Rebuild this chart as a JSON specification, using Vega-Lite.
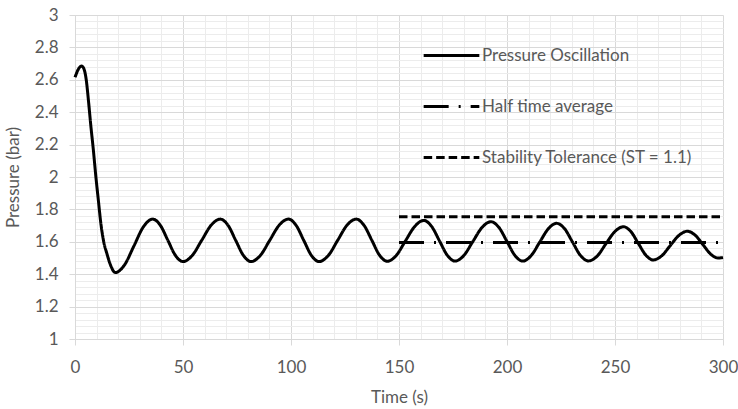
{
  "$schema": "https://vega.github.io/schema/vega-lite/v6.json",
  "width": 648,
  "height": 324,
  "autosize": {"type": "none"},
  "padding": {"left": 75, "top": 15, "right": 15, "bottom": 70},
  "config": {
    "view": {"stroke": null},
    "font": "Lato",
    "axis": {"labelFont": "Lato", "titleFont": "Lato"},
    "legend": {"labelFont": "Lato"}
  },
  "datasets": {
    "curve": [
      {"t": 0, "p": 2.615, "s": "Pressure Oscillation"},
      {"t": 1, "p": 2.65, "s": "Pressure Oscillation"},
      {"t": 2, "p": 2.675, "s": "Pressure Oscillation"},
      {"t": 3.1, "p": 2.685, "s": "Pressure Oscillation"},
      {"t": 4.2, "p": 2.665, "s": "Pressure Oscillation"},
      {"t": 5.2, "p": 2.6, "s": "Pressure Oscillation"},
      {"t": 6.2, "p": 2.475, "s": "Pressure Oscillation"},
      {"t": 7.3, "p": 2.32, "s": "Pressure Oscillation"},
      {"t": 8.5, "p": 2.167, "s": "Pressure Oscillation"},
      {"t": 9.6, "p": 2.01, "s": "Pressure Oscillation"},
      {"t": 10.8, "p": 1.858, "s": "Pressure Oscillation"},
      {"t": 12, "p": 1.71, "s": "Pressure Oscillation"},
      {"t": 13.3, "p": 1.6, "s": "Pressure Oscillation"},
      {"t": 14.7, "p": 1.53, "s": "Pressure Oscillation"},
      {"t": 16.5, "p": 1.455, "s": "Pressure Oscillation"},
      {"t": 18.6, "p": 1.41, "s": "Pressure Oscillation"},
      {"t": 22.95, "p": 1.458, "s": "Pressure Oscillation"},
      {"t": 27.3, "p": 1.575, "s": "Pressure Oscillation"},
      {"t": 31.65, "p": 1.692, "s": "Pressure Oscillation"},
      {"t": 36, "p": 1.74, "s": "Pressure Oscillation"},
      {"t": 39.5, "p": 1.702, "s": "Pressure Oscillation"},
      {"t": 43, "p": 1.609, "s": "Pressure Oscillation"},
      {"t": 46.5, "p": 1.516, "s": "Pressure Oscillation"},
      {"t": 50, "p": 1.478, "s": "Pressure Oscillation"},
      {"t": 54.3, "p": 1.516, "s": "Pressure Oscillation"},
      {"t": 58.65, "p": 1.609, "s": "Pressure Oscillation"},
      {"t": 63, "p": 1.702, "s": "Pressure Oscillation"},
      {"t": 67.3, "p": 1.74, "s": "Pressure Oscillation"},
      {"t": 70.85, "p": 1.702, "s": "Pressure Oscillation"},
      {"t": 74.4, "p": 1.609, "s": "Pressure Oscillation"},
      {"t": 77.95, "p": 1.516, "s": "Pressure Oscillation"},
      {"t": 81.5, "p": 1.478, "s": "Pressure Oscillation"},
      {"t": 85.8, "p": 1.516, "s": "Pressure Oscillation"},
      {"t": 90.15, "p": 1.609, "s": "Pressure Oscillation"},
      {"t": 94.5, "p": 1.702, "s": "Pressure Oscillation"},
      {"t": 98.8, "p": 1.74, "s": "Pressure Oscillation"},
      {"t": 102.35, "p": 1.702, "s": "Pressure Oscillation"},
      {"t": 105.9, "p": 1.609, "s": "Pressure Oscillation"},
      {"t": 109.45, "p": 1.516, "s": "Pressure Oscillation"},
      {"t": 113, "p": 1.478, "s": "Pressure Oscillation"},
      {"t": 117.3, "p": 1.516, "s": "Pressure Oscillation"},
      {"t": 121.6, "p": 1.609, "s": "Pressure Oscillation"},
      {"t": 125.9, "p": 1.702, "s": "Pressure Oscillation"},
      {"t": 130.2, "p": 1.74, "s": "Pressure Oscillation"},
      {"t": 133.8, "p": 1.702, "s": "Pressure Oscillation"},
      {"t": 137.4, "p": 1.61, "s": "Pressure Oscillation"},
      {"t": 141, "p": 1.517, "s": "Pressure Oscillation"},
      {"t": 144.6, "p": 1.48, "s": "Pressure Oscillation"},
      {"t": 148.8, "p": 1.517, "s": "Pressure Oscillation"},
      {"t": 153, "p": 1.606, "s": "Pressure Oscillation"},
      {"t": 157.3, "p": 1.695, "s": "Pressure Oscillation"},
      {"t": 161.5, "p": 1.732, "s": "Pressure Oscillation"},
      {"t": 165.1, "p": 1.695, "s": "Pressure Oscillation"},
      {"t": 168.7, "p": 1.607, "s": "Pressure Oscillation"},
      {"t": 172.3, "p": 1.518, "s": "Pressure Oscillation"},
      {"t": 175.9, "p": 1.481, "s": "Pressure Oscillation"},
      {"t": 180.1, "p": 1.517, "s": "Pressure Oscillation"},
      {"t": 184.25, "p": 1.603, "s": "Pressure Oscillation"},
      {"t": 188.4, "p": 1.688, "s": "Pressure Oscillation"},
      {"t": 192.6, "p": 1.724, "s": "Pressure Oscillation"},
      {"t": 196.3, "p": 1.688, "s": "Pressure Oscillation"},
      {"t": 199.95, "p": 1.603, "s": "Pressure Oscillation"},
      {"t": 203.6, "p": 1.517, "s": "Pressure Oscillation"},
      {"t": 207.3, "p": 1.481, "s": "Pressure Oscillation"},
      {"t": 211.2, "p": 1.515, "s": "Pressure Oscillation"},
      {"t": 215.15, "p": 1.598, "s": "Pressure Oscillation"},
      {"t": 219.1, "p": 1.68, "s": "Pressure Oscillation"},
      {"t": 223, "p": 1.714, "s": "Pressure Oscillation"},
      {"t": 226.7, "p": 1.68, "s": "Pressure Oscillation"},
      {"t": 230.35, "p": 1.598, "s": "Pressure Oscillation"},
      {"t": 234, "p": 1.516, "s": "Pressure Oscillation"},
      {"t": 237.7, "p": 1.482, "s": "Pressure Oscillation"},
      {"t": 241.75, "p": 1.512, "s": "Pressure Oscillation"},
      {"t": 245.8, "p": 1.588, "s": "Pressure Oscillation"},
      {"t": 249.85, "p": 1.662, "s": "Pressure Oscillation"},
      {"t": 253.9, "p": 1.693, "s": "Pressure Oscillation"},
      {"t": 257.35, "p": 1.663, "s": "Pressure Oscillation"},
      {"t": 260.8, "p": 1.59, "s": "Pressure Oscillation"},
      {"t": 264.25, "p": 1.518, "s": "Pressure Oscillation"},
      {"t": 267.7, "p": 1.488, "s": "Pressure Oscillation"},
      {"t": 271.65, "p": 1.514, "s": "Pressure Oscillation"},
      {"t": 275.6, "p": 1.577, "s": "Pressure Oscillation"},
      {"t": 279.55, "p": 1.639, "s": "Pressure Oscillation"},
      {"t": 283.5, "p": 1.665, "s": "Pressure Oscillation"},
      {"t": 287.1, "p": 1.641, "s": "Pressure Oscillation"},
      {"t": 290.7, "p": 1.583, "s": "Pressure Oscillation"},
      {"t": 294.3, "p": 1.524, "s": "Pressure Oscillation"},
      {"t": 297.8, "p": 1.5, "s": "Pressure Oscillation"},
      {"t": 300, "p": 1.503, "s": "Pressure Oscillation"}
    ],
    "refs": [
      {"t": 150, "p": 1.595, "s": "Half time average"},
      {"t": 300, "p": 1.595, "s": "Half time average"},
      {"t": 150, "p": 1.755, "s": "Stability Tolerance (ST = 1.1)"},
      {"t": 300, "p": 1.755, "s": "Stability Tolerance (ST = 1.1)"}
    ]
  },
  "layer": [
    {
      "data": {"name": "curve"},
      "mark": {"type": "line", "interpolate": "monotone", "color": "black", "strokeWidth": 3},
      "encoding": {
        "x": {
          "field": "t", "type": "quantitative",
          "scale": {"domain": [0, 300], "nice": false, "zero": false},
          "axis": {
            "orient": "top", "title": null, "labels": false, "ticks": false, "domain": false,
            "grid": true, "gridColor": "#ececec", "gridWidth": 1,
            "values": [0,10,20,30,40,60,70,80,90,110,120,130,140,160,170,180,190,210,220,230,240,260,270,280,290]
          }
        },
        "y": {
          "field": "p", "type": "quantitative",
          "scale": {"domain": [1, 3], "nice": false, "zero": false},
          "axis": {
            "orient": "right", "title": null, "labels": false, "ticks": false, "domain": false,
            "grid": true, "gridColor": "#ececec", "gridWidth": 1,
            "values": [1.04,1.08,1.12,1.16,1.24,1.28,1.32,1.36,1.44,1.48,1.52,1.56,1.64,1.68,1.72,1.76,1.84,1.88,1.92,1.96,2.04,2.08,2.12,2.16,2.24,2.28,2.32,2.36,2.44,2.48,2.52,2.56,2.64,2.68,2.72,2.76,2.84,2.88,2.92,2.96]
          }
        },
        "strokeDash": {
          "field": "s", "type": "nominal",
          "scale": {
            "domain": ["Pressure Oscillation", "Half time average", "Stability Tolerance (ST = 1.1)"],
            "range": [[1, 0], [25, 10, 2, 10], [8.5, 4]]
          },
          "legend": {
            "orient": "none", "legendX": 347, "legendY": 11, "title": null, "padding": 0,
            "symbolType": "stroke", "symbolSize": 3100, "symbolStrokeWidth": 3, "symbolStrokeColor": "black",
            "labelFontSize": 17, "labelColor": "#595959", "labelOffset": 1, "rowPadding": 13, "labelLimit": 400
          }
        }
      }
    },
    {
      "data": {"name": "refs"},
      "mark": {"type": "line", "color": "black", "strokeWidth": 3},
      "encoding": {
        "x": {
          "field": "t", "type": "quantitative",
          "axis": {
            "orient": "bottom", "title": "Time (s)", "values": [0, 50, 100, 150, 200, 250, 300],
            "labelFlush": false,
            "grid": true, "gridColor": "#d9d9d9", "domainColor": "#d9d9d9", "tickColor": "#d9d9d9",
            "tickSize": 6, "labelColor": "#595959", "labelFontSize": 17, "labelPadding": 14,
            "titleColor": "#595959", "titleFontSize": 17, "titleFontWeight": "normal", "titlePadding": 14
          }
        },
        "y": {
          "field": "p", "type": "quantitative",
          "axis": {
            "orient": "left", "title": "Pressure (bar)", "values": [1, 1.2, 1.4, 1.6, 1.8, 2, 2.2, 2.4, 2.6, 2.8, 3],
            "format": ".1~f", "labelFlush": false,
            "grid": true, "gridColor": "#d9d9d9", "domainColor": "#d9d9d9", "tickColor": "#d9d9d9",
            "tickSize": 6, "labelColor": "#595959", "labelFontSize": 17, "labelPadding": 11,
            "titleColor": "#595959", "titleFontSize": 17, "titleFontWeight": "normal", "titlePadding": 12
          }
        },
        "strokeDash": {"field": "s", "type": "nominal"}
      }
    }
  ],
  "resolve": {"axis": {"x": "independent", "y": "independent"}}
}
